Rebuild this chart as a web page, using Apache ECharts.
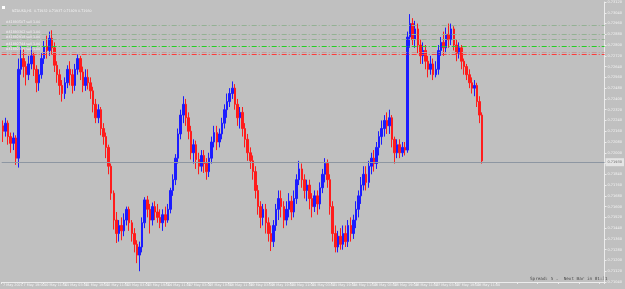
<!DOCTYPE html>
<html>
<head>
<meta charset="utf-8" />
<title>NZDUSD,H1</title>
<script src="https://cdn.jsdelivr.net/npm/echarts@6/dist/echarts.min.js"></script>
<style>html,body{margin:0;padding:0;background:#c0c0c0}</style>
</head>
<body>
<div id="main" style="width:625px;height:289px;"></div>
<script type="text/javascript">
// two-hour candles: open, close, low, high
var opens = [
  .7220,.7216,.7222,.7212,.7207,.7211,.7196,.7262,.7270,.7264,
  .7258,.7266,.7272,.7262,.7252,.7258,.7270,.7279,.7276,.7285,
  .7278,.7265,.7258,.7250,.7244,.7252,.7262,.7258,.7250,.7262,
  .7270,.7260,.7250,.7256,.7252,.7246,.7236,.7226,.7232,.7218,
  .7212,.7204,.7190,.7170,.7150,.7140,.7146,.7142,.7150,.7158,
  .7148,.7140,.7132,.7124,.7130,.7148,.7165,.7158,.7150,.7160,
  .7156,.7152,.7148,.7154,.7150,.7158,.7172,.7180,.7196,.7214,
  .7228,.7236,.7226,.7216,.7200,.7206,.7195,.7190,.7198,.7192,
  .7186,.7196,.7208,.7215,.7208,.7214,.7222,.7232,.7238,.7244,
  .7248,.7236,.7226,.7230,.7218,.7210,.7200,.7194,.7186,.7172,
  .7160,.7152,.7158,.7148,.7140,.7134,.7146,.7158,.7166,.7160,
  .7150,.7158,.7164,.7156,.7166,.7180,.7188,.7180,.7172,.7176,
  .7166,.7160,.7168,.7162,.7174,.7184,.7192,.7180,.7160,.7140,
  .7130,.7138,.7132,.7140,.7134,.7146,.7140,.7150,.7158,.7168,
  .7176,.7184,.7178,.7190,.7196,.7192,.7204,.7212,.7218,.7224,
  .7220,.7226,.7210,.7200,.7206,.7200,.7204,.7202,.7286,.7296,
  .7284,.7292,.7280,.7272,.7276,.7268,.7262,.7266,.7258,.7262,
  .7276,.7282,.7278,.7288,.7284,.7292,.7280,.7274,.7278,.7268,
  .7264,.7258,.7252,.7248,.7250,.7238,.7228
];
var closes = [
  .7216,.7222,.7212,.7207,.7211,.7196,.7262,.7270,.7264,.7258,
  .7266,.7272,.7262,.7252,.7258,.7270,.7279,.7276,.7285,.7278,
  .7265,.7258,.7250,.7244,.7252,.7262,.7258,.7250,.7262,.7270,
  .7260,.7250,.7256,.7252,.7246,.7236,.7226,.7232,.7218,.7212,
  .7204,.7190,.7170,.7150,.7140,.7146,.7142,.7150,.7158,.7148,
  .7140,.7132,.7124,.7130,.7148,.7165,.7158,.7150,.7160,.7156,
  .7152,.7148,.7154,.7150,.7158,.7172,.7180,.7196,.7214,.7228,
  .7236,.7226,.7216,.7200,.7206,.7195,.7190,.7198,.7192,.7186,
  .7196,.7208,.7215,.7208,.7214,.7222,.7232,.7238,.7244,.7248,
  .7236,.7226,.7230,.7218,.7210,.7200,.7194,.7186,.7172,.7160,
  .7152,.7158,.7148,.7140,.7134,.7146,.7158,.7166,.7160,.7150,
  .7158,.7164,.7156,.7166,.7180,.7188,.7180,.7172,.7176,.7166,
  .7160,.7168,.7162,.7174,.7184,.7192,.7180,.7160,.7140,.7130,
  .7138,.7132,.7140,.7134,.7146,.7140,.7150,.7158,.7168,.7176,
  .7184,.7178,.7190,.7196,.7192,.7204,.7212,.7218,.7224,.7220,
  .7226,.7210,.7200,.7206,.7200,.7204,.7202,.7286,.7296,.7284,
  .7292,.7280,.7272,.7276,.7268,.7262,.7266,.7258,.7262,.7276,
  .7282,.7278,.7288,.7284,.7292,.7280,.7274,.7278,.7268,.7264,
  .7258,.7252,.7248,.7250,.7238,.7228,.7194
];
var lows = [
  .7208,.7212,.7206,.7200,.7202,.7191,.7189,.7258,.7256,.7250,
  .7254,.7262,.7257,.7245,.7246,.7255,.7266,.7270,.7272,.7273,
  .7260,.7252,.7243,.7238,.7240,.7248,.7250,.7244,.7246,.7258,
  .7254,.7245,.7246,.7247,.7240,.7230,.7222,.7222,.7213,.7206,
  .7196,.7184,.7165,.7143,.7133,.7134,.7135,.7138,.7146,.7142,
  .7134,.7126,.7118,.7112,.7126,.7144,.7152,.7140,.7146,.7150,
  .7148,.7144,.7142,.7145,.7148,.7155,.7168,.7176,.7192,.7210,
  .7222,.7220,.7210,.7195,.7192,.7188,.7184,.7186,.7185,.7180,
  .7182,.7192,.7204,.7202,.7204,.7210,.7218,.7226,.7234,.7240,
  .7232,.7220,.7218,.7212,.7204,.7194,.7188,.7180,.7166,.7154,
  .7144,.7146,.7140,.7134,.7127,.7130,.7142,.7150,.7152,.7144,
  .7146,.7152,.7150,.7152,.7162,.7176,.7174,.7166,.7164,.7158,
  .7152,.7156,.7154,.7158,.7170,.7178,.7174,.7154,.7134,.7126,
  .7126,.7128,.7128,.7130,.7130,.7134,.7136,.7144,.7152,.7162,
  .7172,.7172,.7174,.7184,.7186,.7188,.7198,.7206,.7212,.7214,
  .7214,.7204,.7192,.7196,.7196,.7197,.7198,.7200,.7278,.7280,
  .7278,.7274,.7266,.7266,.7262,.7256,.7258,.7254,.7256,.7258,
  .7272,.7272,.7274,.7278,.7280,.7276,.7268,.7270,.7262,.7258,
  .7254,.7248,.7244,.7242,.7234,.7222,.7192
];
var highs = [
  .7224,.7226,.7224,.7215,.7215,.7213,.7270,.7279,.7277,.7268,
  .7272,.7279,.7275,.7265,.7262,.7274,.7283,.7287,.7290,.7291,
  .7282,.7268,.7262,.7254,.7256,.7265,.7268,.7262,.7266,.7273,
  .7272,.7264,.7262,.7262,.7256,.7249,.7240,.7236,.7234,.7222,
  .7215,.7206,.7192,.7172,.7156,.7150,.7152,.7155,.7160,.7160,
  .7150,.7144,.7135,.7134,.7152,.7167,.7168,.7162,.7163,.7164,
  .7162,.7158,.7158,.7160,.7162,.7174,.7184,.7199,.7218,.7232,
  .7242,.7240,.7230,.7220,.7210,.7209,.7200,.7202,.7202,.7196,
  .7200,.7212,.7220,.7220,.7218,.7226,.7236,.7244,.7248,.7253,
  .7251,.7240,.7234,.7234,.7222,.7214,.7204,.7198,.7190,.7176,
  .7164,.7162,.7162,.7152,.7146,.7150,.7162,.7172,.7172,.7164,
  .7164,.7170,.7168,.7172,.7184,.7194,.7192,.7184,.7180,.7180,
  .7170,.7172,.7172,.7178,.7188,.7196,.7195,.7184,.7164,.7146,
  .7142,.7144,.7146,.7146,.7150,.7152,.7154,.7164,.7172,.7182,
  .7190,.7190,.7194,.7200,.7202,.7208,.7216,.7224,.7228,.7230,
  .7232,.7228,.7212,.7210,.7210,.7208,.7208,.7290,.7303,.7300,
  .7298,.7296,.7284,.7282,.7280,.7272,.7272,.7270,.7268,.7280,
  .7286,.7290,.7293,.7296,.7296,.7294,.7284,.7282,.7280,.7270,
  .7266,.7262,.7256,.7254,.7252,.7242,.7230
];

// one label every 8 candles (16 hours)
var timeLabels = ['7 May 2021', '7 May 19:00', '10 May 11:00', '11 May 03:00', '11 May 19:00',
  '12 May 11:00', '13 May 03:00', '13 May 19:00', '14 May 11:00', '17 May 03:00', '17 May 19:00',
  '18 May 11:00', '19 May 03:00', '19 May 19:00', '20 May 11:00', '21 May 03:00', '21 May 19:00',
  '24 May 11:00', '25 May 03:00', '25 May 19:00', '26 May 11:00', '27 May 03:00', '27 May 19:00',
  '28 May 11:00'];
var slotCount = 234;

var priceMin = 0.7104;
var priceMax = 0.7312;
var priceStep = 0.0008;

var orderLevels = [0.7295, 0.7288, 0.7284, 0.7279, 0.7275, 0.7273];
var orderTexts = ['#41893507 sell 1.00', '#41893362 sell 1.00', '#41892918 sell 1.00', '#41892744 sell 1.00', '#41892310 sell 1.00', ''];
var bidPrice = 0.7193;

var orderColors = ['#93b193', '#93b193', '#93b193', '#22d022', '#c49a9a', '#ff3a3a'];

var categories = [];
for (var i = 0; i < slotCount; i++) {
  categories.push(i % 8 === 0 && timeLabels[i / 8] ? timeLabels[i / 8] : '');
}
var candles = [];
for (var k = 0; k < closes.length; k++) {
  candles.push([opens[k], closes[k], lows[k], highs[k]]);
}

var marks = [];
for (var m = 0; m < orderLevels.length; m++) {
  marks.push({
    yAxis: orderLevels[m],
    lineStyle: { color: orderColors[m], type: [5, 2, 1, 2], width: 1 },
    label: { show: orderTexts[m] !== '', formatter: orderTexts[m], position: 'insideStartTop',
      distance: [4, 1], color: '#f2f2f2', fontSize: 3.3, fontFamily: 'DejaVu Sans' }
  });
}
marks.push({
  yAxis: bidPrice,
  lineStyle: { color: '#8d96a2', type: 'solid', width: 1 },
  label: { show: true, position: 'end', distance: 1, formatter: bidPrice.toFixed(5),
    color: '#6a6a6a', backgroundColor: '#e4e4e4', padding: [2, 2], fontSize: 3.5, fontFamily: 'DejaVu Sans' }
});

var myChart = echarts.init(document.getElementById('main'));
var option = {
  backgroundColor: '#c0c0c0',
  animation: false,
  title: {
    text: 'NZDUSD,H1  0.71932 0.71937 0.71929 0.71930',
    left: 7, top: 5,
    textStyle: { color: '#f4f4f4', fontSize: 3.3, fontWeight: 'normal', fontFamily: 'DejaVu Sans' }
  },
  graphic: [
    { type: 'rect', left: 2, top: 6, shape: { width: 3, height: 3 }, style: { fill: '#ffffff' } },
    { type: 'text', left: 530, top: 277,
      style: { text: 'Spread: 5 .  Next Bar in 01:31', fill: '#4a4a4a', fontSize: 4.3, fontFamily: 'DejaVu Sans Mono' } }
  ],
  grid: { left: 0, right: 16, top: 2, bottom: 7 },
  xAxis: {
    type: 'category',
    data: categories,
    boundaryGap: true,
    axisLine: { lineStyle: { color: '#ececec', width: 1 } },
    axisTick: { show: true, length: 2, lineStyle: { color: '#ececec' },
      interval: function (idx) { return idx % 8 === 0; } },
    axisLabel: { color: '#f4f4f4', fontSize: 3.4, fontFamily: 'DejaVu Sans', align: 'left', margin: 2,
      hideOverlap: false, showMinLabel: true,
      interval: function (idx) { return idx % 8 === 0; } },
    splitLine: { show: false }
  },
  yAxis: {
    type: 'value',
    position: 'right',
    min: priceMin,
    max: priceMax,
    interval: priceStep,
    axisLine: { show: true, lineStyle: { color: '#ececec', width: 1 } },
    axisTick: { show: true, length: 2, lineStyle: { color: '#ececec' } },
    axisLabel: { color: '#f4f4f4', fontSize: 3.5, fontFamily: 'DejaVu Sans', margin: 3,
      formatter: function (v) { return v.toFixed(5); } },
    splitLine: { show: false }
  },
  series: [{
    type: 'candlestick',
    data: candles,
    barWidth: 2,
    itemStyle: {
      color: '#1c1cff', color0: '#ff1c1c',
      borderColor: '#1c1cff', borderColor0: '#ff1c1c', borderWidth: 1
    },
    markLine: { silent: true, precision: 5, symbol: ['none', 'none'], data: marks }
  }]
};
myChart.setOption(option);
</script>
</body>
</html>
